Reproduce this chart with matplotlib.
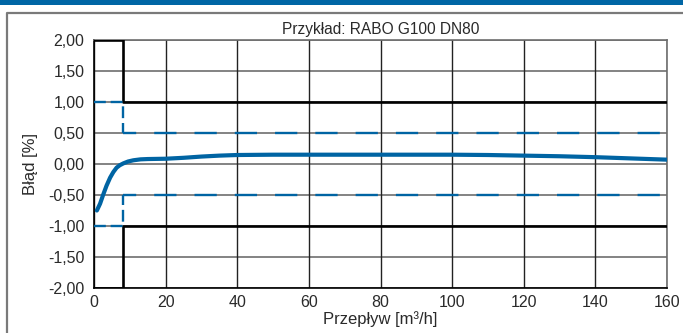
import matplotlib.pyplot as plt
import numpy as np
from matplotlib.lines import Line2D

plt.rcParams['font.family'] = ['Liberation Sans', 'DejaVu Sans']
plt.rcParams['lines.scale_dashes'] = False

# measured error curve
flow = [0.8, 1.7, 2.6, 3.5, 4.5, 5.4, 6.3, 7.2, 8.2, 9.5, 11, 13, 15, 20, 25,
        30, 35, 40, 50, 60, 80, 100, 110, 120, 130, 140, 150, 160]
error = [-0.75, -0.64, -0.49, -0.35, -0.22, -0.13, -0.06, -0.02, 0.01, 0.04,
         0.06, 0.075, 0.08, 0.085, 0.1, 0.12, 0.135, 0.145, 0.15, 0.15, 0.15,
         0.15, 0.145, 0.135, 0.125, 0.11, 0.09, 0.07]

# limit curves
limit_x = [0, 8, 8, 160]
hard_upper = [2, 2, 1, 1]
hard_lower = [-2, -2, -1, -1]
soft_upper = [1, 1, 0.5, 0.5]
soft_lower = [-1, -1, -0.5, -0.5]

x_ticks = [0, 20, 40, 60, 80, 100, 120, 140, 160]
y_ticks = [-2, -1.5, -1, -0.5, 0, 0.5, 1, 1.5, 2]

title = 'Przykład: RABO G100 DN80'
x_label = 'Przepływ [m³/h]'
y_label = 'Błąd [%]'

blue = '#0064a3'
text_col = '#2a2a2a'

fig = plt.figure(figsize=(6.83, 3.33), dpi=100)
ax = fig.add_axes([94 / 683, 1 - 288 / 333, (667 - 94) / 683, (288 - 40) / 333])

# decorations outside the plot
fig.add_artist(plt.Rectangle((0, 1 - 4.5 / 333), 1, 4.5 / 333, transform=fig.transFigure,
                             color='#0066a5', lw=0))
fig.add_artist(Line2D([7 / 683, 7 / 683, 1], [0, 1 - 13 / 333, 1 - 13 / 333],
                      transform=fig.transFigure, color='#7a7a7a', lw=1.6))

ax.set_xlim(0, 160)
ax.set_ylim(-2, 2)
ax.set_xticks(x_ticks)
ax.set_yticks(y_ticks)
ax.set_yticklabels([f'{v:.2f}'.replace('.', ',') for v in y_ticks])
ax.tick_params(length=0, labelsize=11.5, colors=text_col)
ax.tick_params(axis='x', pad=5)
ax.tick_params(axis='y', pad=7)

for v in y_ticks:
    ax.axhline(v, color='#6e6e6e', lw=1.2, zorder=1)
for v in x_ticks:
    ax.axvline(v, color='#222222', lw=1.0, zorder=1)

ax.plot(limit_x, hard_upper, color='black', lw=1.9, zorder=3)
ax.plot(limit_x, hard_lower, color='black', lw=1.9, zorder=3)
for soft in (soft_upper, soft_lower):
    # short dashes around the step, long dashes along the plateau
    ax.plot(limit_x[:3], soft[:3], color=blue, lw=1.7, linestyle=(0, (8.5, 3.5)), zorder=3)
    ax.plot(limit_x[2:], soft[2:], color=blue, lw=1.7, linestyle=(6.5, (16, 13)), zorder=3)

ax.plot(flow, error, color=blue, lw=3.0, solid_capstyle='round', zorder=4)

for side in ['top', 'right']:
    ax.spines[side].set_color('#6e6e6e')
for side in ['left', 'bottom']:
    ax.spines[side].set_color('black')
for s in ax.spines.values():
    s.set_linewidth(1.2)

ax.set_title(title, fontsize=11.2, color=text_col, pad=4)
ax.set_xlabel(x_label, fontsize=12, color=text_col, labelpad=1)
ax.set_ylabel(y_label, fontsize=12, color=text_col, labelpad=7)

fig.savefig('out.png', dpi=100)
